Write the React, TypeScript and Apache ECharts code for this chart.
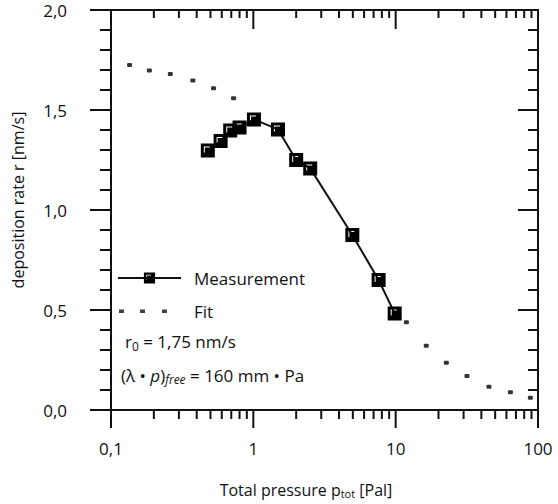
import React, { useEffect, useRef } from "react";
import * as echarts from "echarts";

// Measurement data (pressure in Pa, deposition rate in nm/s)
const pressureMeas = [0.479, 0.589, 0.688, 0.8, 1.01, 1.49, 2.0, 2.51, 4.96, 7.59, 9.84];
const rateMeas = [1.297, 1.345, 1.397, 1.413, 1.453, 1.403, 1.25, 1.208, 0.875, 0.65, 0.483];

// Fit (visible dots only)
const pressureFit = [0.135, 0.186, 0.261, 0.376, 0.525, 0.726, 11.9, 16.4, 22.7, 31.7, 45.2, 64.0, 88.4];
const rateFit = [1.725, 1.697, 1.68, 1.647, 1.609, 1.559, 0.4385, 0.3215, 0.2365, 0.17, 0.1165, 0.0885, 0.0615];

// Axis ticks / labels
const xTickLabels = ["0,1", "1", "10", "100"];
const xMajorTicks = [0.1, 1, 10, 100];
const xMinorTicks = [
  0.2, 0.3, 0.4, 0.5, 0.6, 0.7, 0.8, 0.9,
  2, 3, 4, 5, 6, 7, 8, 9,
  20, 30, 40, 50, 60, 70, 80, 90,
];
const yMajorTicks = [0, 0.5, 1.0, 1.5, 2.0];
const yMinorTicks = [
  0.1, 0.2, 0.3, 0.4, 0.6, 0.7, 0.8, 0.9,
  1.1, 1.2, 1.3, 1.4, 1.6, 1.7, 1.8, 1.9,
];

const FONT = "'Open Sans', 'Noto Sans', sans-serif";
const INK = "#111";

const squarePath = "path://M0,0h14v14h-14z M3,3v6h1v-5h5v-1z";
const fitIcon =
  "path://M0,0h0.01v0.01h-0.01z M63,14h-0.01v-0.01h0.01z M1,5.5h5v3.5h-5z M22,5.5h5v3.5h-5z M44,5.5h5v3.5h-5z";

const textGraphics = [
  {
    type: "text",
    left: 125,
    top: 333,
    style: {
      text: "{n|r}{s|0}{n| = 1,75 nm/s}",
      rich: {
        n: { fontFamily: FONT, fontSize: 17, fill: INK },
        s: { fontFamily: FONT, fontSize: 12, fill: INK, padding: [9, 0, 0, 0] },
      },
    },
  },
  {
    type: "text",
    left: 121,
    top: 367,
    style: {
      text: "{n|(λ • }{i|p}{n|)}{s|free}{n| = 160 mm • Pa}",
      rich: {
        n: { fontFamily: FONT, fontSize: 17, fill: INK },
        i: { fontFamily: FONT, fontSize: 17, fill: INK, fontStyle: "italic" },
        s: { fontFamily: FONT, fontSize: 12, fill: INK, fontStyle: "italic", padding: [8, 0, 0, 0] },
      },
    },
  },
  {
    type: "text",
    x: 18,
    y: 200,
    rotation: Math.PI / 2,
    style: {
      text: "deposition rate r [nm/s]",
      fontFamily: FONT,
      fontSize: 16,
      fill: INK,
      align: "center",
      verticalAlign: "middle",
    },
  },
  {
    type: "text",
    x: 306,
    y: 490,
    style: {
      text: "{n|Total pressure p}{s|tot}{n| [Pal]}",
      align: "center",
      verticalAlign: "middle",
      rich: {
        n: { fontFamily: FONT, fontSize: 16, fill: INK },
        s: { fontFamily: FONT, fontSize: 11, fill: INK, padding: [7, 0, 0, 0] },
      },
    },
  },
];

export default function App() {
  const ref = useRef<HTMLDivElement>(null);

  useEffect(() => {
    if (!ref.current) return;
    const chart = echarts.init(ref.current, undefined, { renderer: "svg" });

    const measData = pressureMeas.map((p, i) => [p, rateMeas[i]]);
    const fitData = pressureFit.map((p, i) => [p, rateFit[i]]);

    const axisLine = () => ({ show: true, onZero: false, lineStyle: { color: INK, width: 2 } });

    chart.setOption({
      animation: false,
      backgroundColor: "#fff",
      textStyle: { fontFamily: FONT },
      grid: { left: 111, top: 10, width: 427, height: 400, containLabel: false },
      legend: {
        orient: "vertical",
        left: 112,
        top: 263,
        itemWidth: 63,
        itemHeight: 14,
        itemGap: 13,
        selectedMode: false,
        textStyle: {
          fontFamily: FONT,
          fontSize: 17,
          color: INK,
          lineHeight: 20,
          padding: [0, 0, 0, 8],
        },
        data: [
          { name: "Measurement" },
          { name: "Fit", icon: fitIcon, itemStyle: { color: INK } },
        ],
      },
      xAxis: [
        {
          type: "log",
          logBase: 10,
          min: 0.1,
          max: 100,
          position: "bottom",
          axisLine: axisLine(),
          axisTick: { show: false },
          axisLabel: {
            show: true,
            margin: 30,
            fontFamily: FONT,
            fontSize: 17,
            color: INK,
            formatter: (_v: number, i: number) => xTickLabels[i] ?? "",
          },
          splitLine: { show: false },
        },
        {
          type: "log",
          logBase: 10,
          min: 0.1,
          max: 100,
          position: "top",
          axisLine: axisLine(),
          axisTick: { show: false },
          axisLabel: { show: false },
          splitLine: { show: false },
        },
      ],
      yAxis: [
        {
          type: "value",
          min: yMajorTicks[0],
          max: yMajorTicks[yMajorTicks.length - 1],
          interval: 0.5,
          position: "left",
          axisLine: axisLine(),
          axisTick: { show: false },
          axisLabel: {
            show: true,
            margin: 44,
            fontFamily: FONT,
            fontSize: 17,
            color: INK,
            padding: [12, 0, 0, 0],
            formatter: (v: number) => v.toFixed(1).replace(".", ","),
          },
          splitLine: { show: false },
        },
        {
          type: "value",
          min: yMajorTicks[0],
          max: yMajorTicks[yMajorTicks.length - 1],
          interval: 0.5,
          position: "right",
          axisLine: axisLine(),
          axisTick: { show: false },
          axisLabel: { show: false },
          splitLine: { show: false },
        },
      ],
      series: [
        {
          name: "Fit",
          type: "scatter",
          data: fitData,
          symbol: "roundRect",
          symbolSize: [5, 4],
          itemStyle: { color: "#000" },
          z: 3,
        },
        {
          name: "Measurement",
          type: "line",
          data: measData,
          symbol: squarePath,
          symbolSize: 14,
          showAllSymbol: true,
          lineStyle: { color: INK, width: 2 },
          itemStyle: { color: "#000", borderWidth: 0 },
          z: 4,
        },
      ],
    });

    // Tick marks positioned through the chart's own axis scales.
    const toPx = (x: number, y: number) =>
      chart.convertToPixel({ xAxisIndex: 0, yAxisIndex: 0 }, [x, y]) as number[];
    const yMin = yMajorTicks[0];
    const yMax = yMajorTicks[yMajorTicks.length - 1];
    const xMin = xMajorTicks[0];
    const xMax = xMajorTicks[xMajorTicks.length - 1];
    const tickRects: any[] = [];
    const rect = (x: number, y: number, w: number, h: number) =>
      tickRects.push({
        type: "rect",
        z: 100,
        silent: true,
        shape: { x, y, width: w, height: h },
        style: { fill: INK },
      });
    const xTicks = (vals: number[], bottomLen: number, topLen: number) => {
      vals.forEach((v) => {
        const b = toPx(v, yMin);
        const t = toPx(v, yMax);
        rect(b[0] - 1, b[1], 2, bottomLen);
        rect(t[0] - 1, t[1], 2, topLen);
      });
    };
    const yTicks = (vals: number[], leftLen: number, rightLen: number) => {
      vals.forEach((v) => {
        const l = toPx(xMin, v);
        const r = toPx(xMax, v);
        rect(l[0] - leftLen, l[1] - 1, leftLen, 2);
        rect(r[0] - rightLen, r[1] - 1, rightLen, 2);
      });
    };
    xTicks(xMajorTicks, 18, 19);
    xTicks(xMinorTicks, 9, 8);
    yTicks(yMajorTicks, 21, 20);
    yTicks(yMinorTicks, 11, 10);

    chart.setOption({ graphic: [...textGraphics, ...tickRects] });

    return () => chart.dispose();
  }, []);

  return (
    <div
      ref={ref}
      style={{ position: "absolute", left: 0, top: 0, width: 558, height: 504 }}
    />
  );
}
